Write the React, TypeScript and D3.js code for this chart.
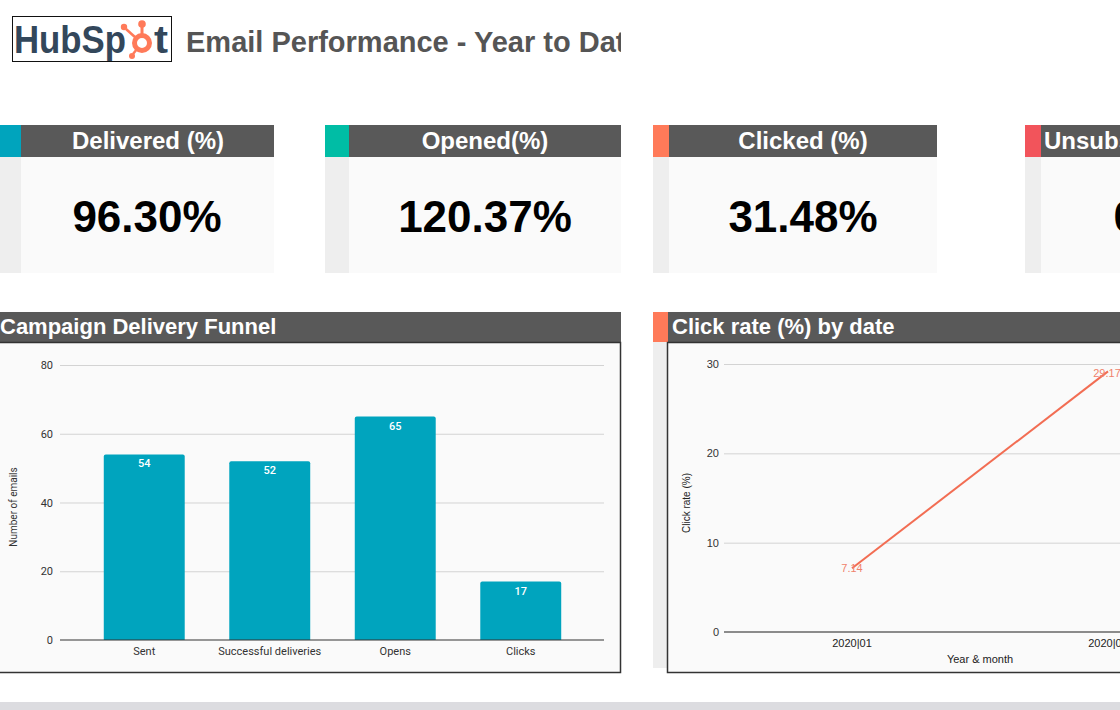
import * as d3 from 'd3';
import { useRef, useEffect } from 'react';

// KPI cards
const kpiLabels = ['Delivered (%)', 'Opened(%)', 'Clicked (%)', 'Unsubscribed (%)'];
const kpiValues = ['96.30%', '120.37%', '31.48%', '0.00%'];
const kpiColors = ['#00a4bd', '#00bda5', '#ff7a59', '#f2545b'];

// Campaign delivery funnel
const funnelStages = ['Sent', 'Successful deliveries', 'Opens', 'Clicks'];
const funnelCounts = [54, 52, 65, 17];
const funnelTicks = [0, 20, 40, 60, 80];

// Click rate by date
const months = ['2020|01', '2020|02'];
const clickRates = [7.14, 29.17];
const clickTicks = [0, 10, 20, 30];

const W = 1120;
const H = 710;
const SANS = '"Liberation Sans", Arial, sans-serif';
const ROBOTO = 'Roboto, "Liberation Sans", sans-serif';

export default function App() {
  const svgRef = useRef<SVGSVGElement | null>(null);

  useEffect(() => {
    document.body.style.margin = '0';
    const svg = d3.select(svgRef.current).attr('width', W).attr('height', H);
    svg.selectAll('*').remove();

    svg.append('rect').attr('width', W).attr('height', H).attr('fill', '#ffffff');

    /* -- Header --------------------------------------------------------------------- */
    svg
      .append('rect')
      .attr('x', 12.5)
      .attr('y', 16.5)
      .attr('width', 159)
      .attr('height', 45)
      .attr('fill', '#fff')
      .attr('stroke', '#111')
      .attr('stroke-width', 1);

    svg
      .append('text')
      .attr('x', 14)
      .attr('y', 53)
      .attr('font-family', SANS)
      .attr('font-size', 38)
      .attr('font-weight', 700)
      .attr('fill', '#33475b')
      .attr('textLength', 112)
      .attr('lengthAdjust', 'spacingAndGlyphs')
      .text('HubSp');

    // sprocket in place of the "o"
    const sp = svg.append('g').attr('fill', '#ff7a59').attr('stroke', '#ff7a59');
    sp.append('circle').attr('cx', 142).attr('cy', 43).attr('r', 7.5).attr('fill', 'none').attr('stroke-width', 5);
    sp.append('line').attr('x1', 142).attr('y1', 35).attr('x2', 142).attr('y2', 26).attr('stroke-width', 3);
    sp.append('circle').attr('cx', 142).attr('cy', 24).attr('r', 3.8).attr('stroke', 'none');
    sp.append('line').attr('x1', 136).attr('y1', 38).attr('x2', 126).attr('y2', 29).attr('stroke-width', 2.5);
    sp.append('circle').attr('cx', 124).attr('cy', 27).attr('r', 3.2).attr('stroke', 'none');
    sp.append('line').attr('x1', 137).attr('y1', 49).attr('x2', 133).attr('y2', 54).attr('stroke-width', 2.5);
    sp.append('circle').attr('cx', 132).attr('cy', 56).attr('r', 3).attr('stroke', 'none');

    svg
      .append('text')
      .attr('x', 154)
      .attr('y', 53)
      .attr('font-family', SANS)
      .attr('font-size', 38)
      .attr('font-weight', 700)
      .attr('fill', '#33475b')
      .attr('textLength', 14)
      .attr('lengthAdjust', 'spacingAndGlyphs')
      .text('t');

    svg
      .append('clipPath')
      .attr('id', 'title-clip')
      .append('rect')
      .attr('x', 180)
      .attr('y', 0)
      .attr('width', 441)
      .attr('height', 80);

    svg
      .append('g')
      .attr('clip-path', 'url(#title-clip)')
      .append('text')
      .attr('x', 186)
      .attr('y', 52)
      .attr('font-family', SANS)
      .attr('font-size', 29)
      .attr('font-weight', 700)
      .attr('fill', '#555555')
      .text('Email Performance - Year to Date');

    /* -- KPI cards ------------------------------------------------------------------ */
    const cardLeft = [-3, 325, 653, 1025];
    const accentW = [24, 24, 16, 16];
    const cardRight = [274, 621, 937, 1300];
    const labelCx = [148, 485, 803, 1146];
    const valueCx = [147, 485, 803, 1176];
    const cardTop = 125;
    const headH = 32;
    const cardBottom = 273;

    kpiLabels.forEach((label, i) => {
      const x0 = cardLeft[i];
      const xa = x0 + accentW[i];
      svg.append('rect').attr('x', x0).attr('y', cardTop).attr('width', accentW[i]).attr('height', headH).attr('fill', kpiColors[i]);
      svg.append('rect').attr('x', xa).attr('y', cardTop).attr('width', cardRight[i] - xa).attr('height', headH).attr('fill', '#595959');
      svg.append('rect').attr('x', x0).attr('y', cardTop + headH).attr('width', accentW[i]).attr('height', cardBottom - cardTop - headH).attr('fill', '#eeeeee');
      svg.append('rect').attr('x', xa).attr('y', cardTop + headH).attr('width', cardRight[i] - xa).attr('height', cardBottom - cardTop - headH).attr('fill', '#fafafa');
      svg
        .append('text')
        .attr('x', labelCx[i])
        .attr('y', cardTop + 24)
        .attr('text-anchor', 'middle')
        .attr('font-family', SANS)
        .attr('font-size', 24)
        .attr('font-weight', 700)
        .attr('fill', '#ffffff')
        .text(label);
      svg
        .append('text')
        .attr('x', valueCx[i])
        .attr('y', 232)
        .attr('text-anchor', 'middle')
        .attr('font-family', SANS)
        .attr('font-size', 44)
        .attr('font-weight', 700)
        .attr('fill', '#000000')
        .text(kpiValues[i]);
    });

    /* -- Campaign Delivery Funnel --------------------------------------------------- */
    const panelTop = 312;
    const panelHead = 30;
    const panelBottom = 673;

    svg.append('rect').attr('x', -2).attr('y', panelTop).attr('width', 623).attr('height', panelHead).attr('fill', '#595959');
    svg
      .append('rect')
      .attr('x', -2)
      .attr('y', panelTop + panelHead + 0.5)
      .attr('width', 622.5)
      .attr('height', panelBottom - panelTop - panelHead - 1)
      .attr('fill', '#fafafa')
      .attr('stroke', '#333')
      .attr('stroke-width', 1.5);
    svg
      .append('text')
      .attr('x', 0)
      .attr('y', panelTop + 22)
      .attr('font-family', SANS)
      .attr('font-size', 22)
      .attr('font-weight', 700)
      .attr('fill', '#ffffff')
      .text('Campaign Delivery Funnel');

    const fy = d3.scaleLinear().domain([0, 80]).range([640, 365]);
    const fx = d3.scaleBand().domain(funnelStages).range([81.5, 583.5]).padding(0);
    const barW = fx.bandwidth() * 0.645;

    funnelTicks.forEach((t) => {
      if (t > 0) {
        svg
          .append('line')
          .attr('x1', 60)
          .attr('x2', 604)
          .attr('y1', fy(t) + 0.5)
          .attr('y2', fy(t) + 0.5)
          .attr('stroke', '#d3d3d3')
          .attr('stroke-width', 1);
      }
      svg
        .append('text')
        .attr('x', 53)
        .attr('y', fy(t) + 4)
        .attr('text-anchor', 'end')
        .attr('font-family', ROBOTO)
        .attr('font-size', 11)
        .attr('fill', '#333')
        .text(t);
    });

    funnelStages.forEach((s, i) => {
      const cx = (fx(s) ?? 0) + fx.bandwidth() / 2;
      const v = funnelCounts[i];
      svg
        .append('path')
        .attr(
          'd',
          `M${cx - barW / 2},${fy(0)}V${fy(v) + 2}q0,-2 2,-2H${cx + barW / 2 - 2}q2,0 2,2V${fy(0)}Z`,
        )
        .attr('fill', '#00a4be');
      svg
        .append('text')
        .attr('x', cx)
        .attr('y', fy(v) + 13)
        .attr('text-anchor', 'middle')
        .attr('font-family', ROBOTO)
        .attr('font-size', 11)
        .attr('font-weight', 500)
        .attr('fill', '#ffffff')
        .text(v);
      svg
        .append('text')
        .attr('x', cx)
        .attr('y', 655)
        .attr('text-anchor', 'middle')
        .attr('font-family', ROBOTO)
        .attr('font-size', 11)
        .attr('fill', '#333')
        .text(s);
    });

    svg.append('line').attr('x1', 60).attr('x2', 604).attr('y1', fy(0)).attr('y2', fy(0)).attr('stroke', '#333').attr('stroke-width', 1);

    svg
      .append('text')
      .attr('transform', `translate(17,507) rotate(-90)`)
      .attr('text-anchor', 'middle')
      .attr('font-family', ROBOTO)
      .attr('font-size', 10)
      .attr('fill', '#333')
      .text('Number of emails');

    /* -- Click rate (%) by date ----------------------------------------------------- */
    svg.append('rect').attr('x', 653).attr('y', panelTop).attr('width', 15).attr('height', panelHead).attr('fill', '#ff7a59');
    svg.append('rect').attr('x', 668).attr('y', panelTop).attr('width', W - 668).attr('height', panelHead).attr('fill', '#595959');
    svg.append('rect').attr('x', 653).attr('y', panelTop + panelHead).attr('width', 14).attr('height', 326).attr('fill', '#eeeeee');
    svg
      .append('rect')
      .attr('x', 667.5)
      .attr('y', panelTop + panelHead + 0.5)
      .attr('width', 470)
      .attr('height', panelBottom - panelTop - panelHead - 1)
      .attr('fill', '#fafafa')
      .attr('stroke', '#333')
      .attr('stroke-width', 1.5);
    svg
      .append('text')
      .attr('x', 672)
      .attr('y', panelTop + 22)
      .attr('font-family', SANS)
      .attr('font-size', 22)
      .attr('font-weight', 700)
      .attr('fill', '#ffffff')
      .text('Click rate (%) by date');

    const cy = d3.scaleLinear().domain([0, 30]).range([632, 364]);
    const cx = d3.scalePoint().domain(months).range([724, 1236]).padding(0.5);

    clickTicks.forEach((t) => {
      if (t > 0) {
        svg
          .append('line')
          .attr('x1', 724)
          .attr('x2', W)
          .attr('y1', cy(t) + 0.5)
          .attr('y2', cy(t) + 0.5)
          .attr('stroke', '#d3d3d3')
          .attr('stroke-width', 1);
      }
      svg
        .append('text')
        .attr('x', 719)
        .attr('y', cy(t) + 4)
        .attr('text-anchor', 'end')
        .attr('font-family', SANS)
        .attr('font-size', 11)
        .attr('fill', '#333')
        .text(t);
    });

    svg.append('line').attr('x1', 724).attr('x2', W).attr('y1', cy(0)).attr('y2', cy(0)).attr('stroke', '#666').attr('stroke-width', 1.5);

    const line = d3
      .line<number>()
      .x((_, i) => cx(months[i]) ?? 0)
      .y((d) => cy(d));

    svg
      .append('path')
      .attr('d', line(clickRates))
      .attr('fill', 'none')
      .attr('stroke', '#f26d53')
      .attr('stroke-width', 2);

    clickRates.forEach((v, i) => {
      svg
        .append('text')
        .attr('x', (cx(months[i]) ?? 0) + (i === 0 ? 0 : -1))
        .attr('y', cy(v) + (i === 0 ? 4 : 6))
        .attr('text-anchor', 'middle')
        .attr('font-family', SANS)
        .attr('font-size', 11)
        .attr('fill', '#f0826c')
        .text(v.toFixed(2));
      svg
        .append('text')
        .attr('x', cx(months[i]) ?? 0)
        .attr('y', 647)
        .attr('text-anchor', 'middle')
        .attr('font-family', SANS)
        .attr('font-size', 11)
        .attr('fill', '#222')
        .text(months[i]);
    });

    svg
      .append('text')
      .attr('x', 980)
      .attr('y', 663)
      .attr('text-anchor', 'middle')
      .attr('font-family', SANS)
      .attr('font-size', 11)
      .attr('fill', '#222')
      .text('Year & month');

    svg
      .append('text')
      .attr('transform', `translate(690,503) rotate(-90)`)
      .attr('text-anchor', 'middle')
      .attr('font-family', SANS)
      .attr('font-size', 10)
      .attr('fill', '#222')
      .text('Click rate (%)');

    /* -- Bottom strip --------------------------------------------------------------- */
    svg.append('rect').attr('x', 0).attr('y', 702).attr('width', W).attr('height', 8).attr('fill', '#dcdce0');
  }, []);

  return (
    <div>
      <svg ref={svgRef} style={{ display: 'block' }} />
    </div>
  );
}
